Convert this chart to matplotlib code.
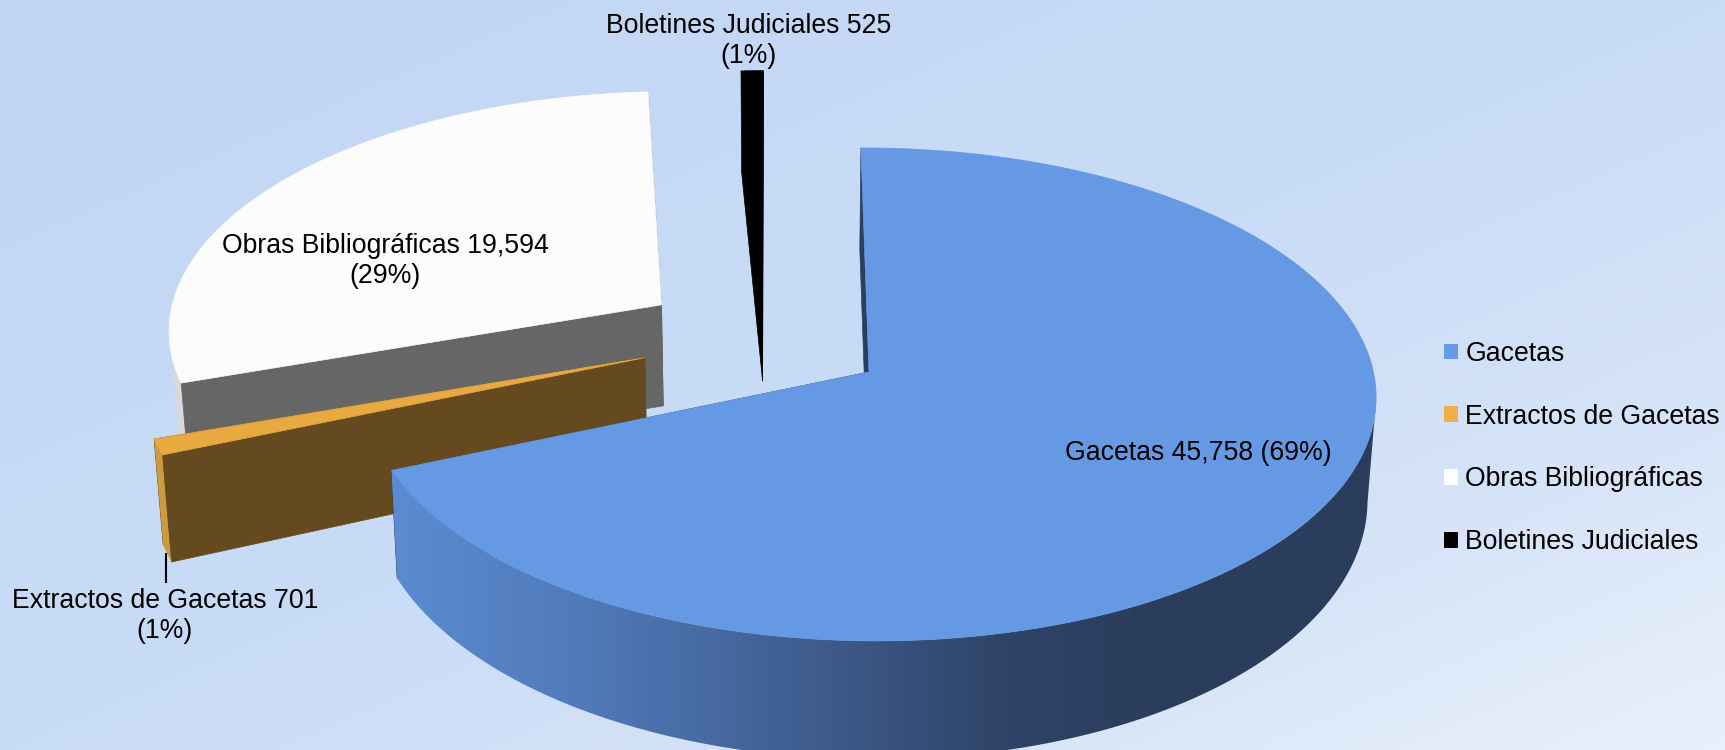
import numpy as np
import matplotlib
matplotlib.use('Agg')
import matplotlib.pyplot as plt
from matplotlib.colors import LinearSegmentedColormap
from matplotlib.patches import Patch, Polygon

categories = ['Gacetas', 'Extractos de Gacetas', 'Obras Bibliográficas', 'Boletines Judiciales']
values = [45758, 701, 19594, 525]
percent_labels = ['69%', '1%', '29%', '1%']

legend_colors = ['#6699E6', '#F0AE48', '#FFFFFF', '#000000']
top_colors = ['#6699E3', '#E8A941', '#FCFCFC', '#000000']
cut_colors = ['#2B3E5E', '#654A20', '#666666', '#000000']
rim_colors = [None, '#CC9A3F', '#D9D9D9', '#000000']
# how far each slice is pulled out, in pie radii
explode = [(0.0, 0.0), (-0.448, 0.0535), (-0.423, 0.277), (-0.2195, 0.387)]

first_angle = 91.0

# projection of the pie plane on to the picture, in pixels
CX, CY = 869.0, 372.0
RX, RY = 503.5, 244.4
PERSP = 0.091
PERSP_X = -0.003
SKEW = -0.012
DEPTH = 101.0
DEPTH_NEAR = 17.5
SHRINK = 0.0145
VANISH_X = 782.0
W, H = 1725, 750

plt.rcParams['font.family'] = ['Liberation Sans', 'DejaVu Sans']


def project(u, v):
    d = 1 + PERSP * v + PERSP_X * u
    return CX + RX * u / d, CY - RY * (v + SKEW * u) / d


def drop(x, y, v):
    # near side of the pie looks a bit thicker
    return x + SHRINK * (VANISH_X - x), y + DEPTH + DEPTH_NEAR * np.maximum(-v, 0)


def draw_slice(ax, i, a_start, a_end):
    off = explode[i]
    angles = np.radians(np.linspace(a_start, a_end, 400))
    u = off[0] + np.cos(angles)
    v = off[1] + np.sin(angles)
    x, y = project(u, v)
    bx, by = drop(x, y, v)
    ax_, ay_ = project(off[0], off[1])
    abx, aby = drop(ax_, ay_, off[1])
    col = cut_colors[i]

    # far cut face
    ax.fill([ax_, x[-1], bx[-1], abx], [ay_, y[-1], by[-1], aby], fc=col, ec=col, lw=0.5, zorder=1)

    # outer rim, only the part that faces the viewer
    front = np.sin(angles) < -PERSP
    if front.any():
        rim_verts = np.r_[np.c_[x[front], y[front]], np.c_[bx[front], by[front]][::-1]]
        if rim_colors[i] is None:
            grad = LinearSegmentedColormap.from_list(
                'rim', [(0, '#5B8CD2'), (0.2, '#5079B8'), (0.42, '#3F5E90'),
                        (0.62, '#2F4468'), (0.75, '#2B3E5E'), (1, '#2B3D5C')])
            im = ax.imshow(np.linspace(0, 1, 256)[None, :], cmap=grad, aspect='auto',
                           extent=[x[front].min(), x[front].max(), H, 0], zorder=1)
            im.set_clip_path(Polygon(rim_verts, transform=ax.transData))
        else:
            ax.fill(rim_verts[:, 0], rim_verts[:, 1], color=rim_colors[i], lw=0, zorder=1)

    # near cut face, then the top
    ax.fill([ax_, x[0], bx[0], abx], [ay_, y[0], by[0], aby], fc=col, ec=col, lw=0.5, zorder=1)
    ax.fill(np.r_[ax_, x], np.r_[ay_, y], fc=top_colors[i], ec=top_colors[i], lw=0.5, zorder=1)


fig = plt.figure(figsize=(W / 100, H / 100), dpi=100)
ax = fig.add_axes([0, 0, 1, 1])

xx, yy = np.meshgrid(np.linspace(0, 1, 400), np.linspace(0, 1, 200))
bg = LinearSegmentedColormap.from_list(
    'bg', [(0, '#C1D6F5'), (0.5, '#C9DCF7'), (0.75, '#D5E3F8'), (1, '#E8F0FB')])
ax.imshow((xx + yy) / 2, cmap=bg, vmin=0, vmax=1, extent=[0, W, H, 0], aspect='auto', zorder=-1)

sweeps = 360.0 * np.array(values) / sum(values)
starts = first_angle - np.r_[0, np.cumsum(sweeps)[:-1]]

for i in [3, 2, 1, 0]:
    draw_slice(ax, i, starts[i], starts[i] - sweeps[i])

ax.plot([166, 166], [553, 583], color='black', lw=1.5, solid_capstyle='butt', zorder=2)

label_size = 19.2
ax.text(749, 41, f'{categories[3]} {values[3]}\n({percent_labels[3]})', ha='center', va='center',
        fontsize=label_size, linespacing=1.23)
ax.text(385, 261, f'{categories[2]} {values[2]:,}\n({percent_labels[2]})', ha='center', va='center',
        fontsize=label_size, linespacing=1.23)
ax.text(1198, 453, f'{categories[0]} {values[0]:,} ({percent_labels[0]})', ha='center', va='center',
        fontsize=label_size)
ax.text(165, 616, f'{categories[1]} {values[1]}\n({percent_labels[1]})', ha='center', va='center',
        fontsize=label_size, linespacing=1.2)

handles = [Patch(facecolor=c, edgecolor='none', label=n) for c, n in zip(legend_colors, categories)]
ax.legend(handles=handles, loc='center left', bbox_to_anchor=(1444, 448), bbox_transform=ax.transData,
          frameon=False, fontsize=label_size, handlelength=0.52, handleheight=0.52,
          handletextpad=0.28, labelspacing=1.38, borderpad=0, borderaxespad=0)

ax.set_xlim(0, W)
ax.set_ylim(H, 0)
ax.axis('off')
fig.savefig('out.png', dpi=100)
